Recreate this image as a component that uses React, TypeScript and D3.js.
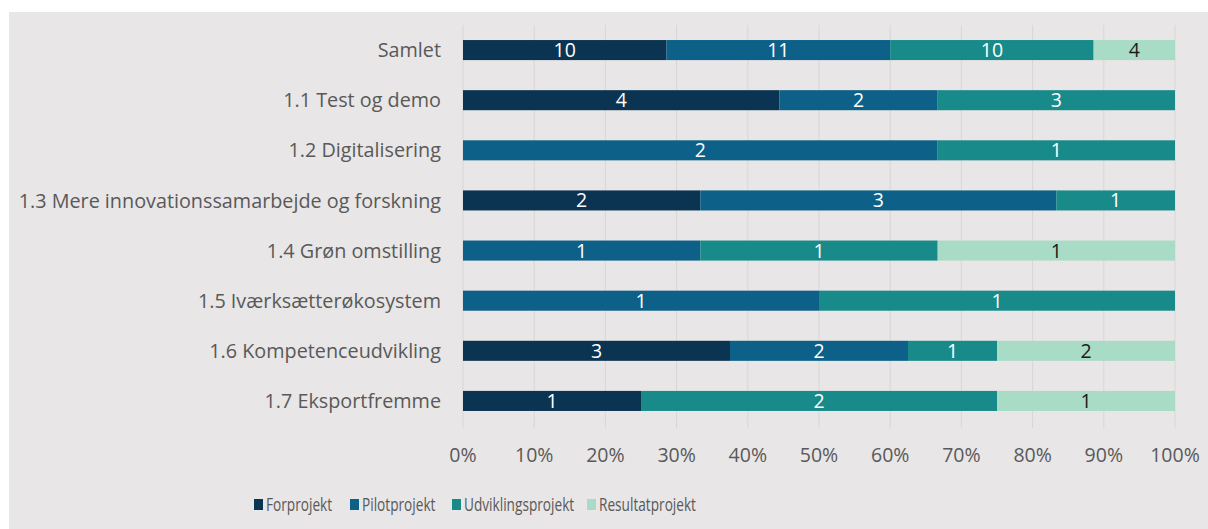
import React from "react";
import * as d3 from "d3";

const categories = [
  "Samlet",
  "1.1 Test og demo",
  "1.2 Digitalisering",
  "1.3 Mere innovationssamarbejde og forskning",
  "1.4 Grøn omstilling",
  "1.5 Iværksætterøkosystem",
  "1.6 Kompetenceudvikling",
  "1.7 Eksportfremme",
];
const seriesNames = ["Forprojekt", "Pilotprojekt", "Udviklingsprojekt", "Resultatprojekt"];
const forprojekt = [10, 4, 0, 2, 0, 0, 3, 1];
const pilotprojekt = [11, 2, 2, 3, 1, 1, 2, 0];
const udviklingsprojekt = [10, 3, 1, 1, 1, 1, 1, 2];
const resultatprojekt = [4, 0, 0, 0, 1, 0, 2, 1];
const tickValues = [0, 0.1, 0.2, 0.3, 0.4, 0.5, 0.6, 0.7, 0.8, 0.9, 1];

const colors = ["#0b3452", "#0d6088", "#178a89", "#a8dcc6"];
const labelColors = ["#ffffff", "#ffffff", "#ffffff", "#1a1a1a"];
const OPEN = "'Open Sans', sans-serif";

export default function App() {
  const W = 1208, H = 529;
  const x0 = 463, x1 = 1175;
  const x = d3.scaleLinear().domain([0, 1]).range([x0, x1]);
  const y = d3.scaleBand().domain(categories).range([25, 426]).paddingInner(0.6).paddingOuter(0.3);

  const rows = categories.map((c, i) => ({
    cat: c,
    Forprojekt: forprojekt[i],
    Pilotprojekt: pilotprojekt[i],
    Udviklingsprojekt: udviklingsprojekt[i],
    Resultatprojekt: resultatprojekt[i],
  }));
  const stack = d3.stack<any>().keys(seriesNames).offset(d3.stackOffsetExpand);
  const layers = stack(rows);

  const legendX = [254, 350, 452, 587];

  return (
    <svg width={W} height={H} style={{ position: "absolute", left: 0, top: 0 }}>
      <rect x={0} y={0} width={W} height={H} fill="#ffffff" />
      <rect x={9} y={12} width={W - 9} height={H - 12} fill="#e8e6e6" />
      {tickValues.map((t) => (
        <line key={t} x1={x(t)} x2={x(t)} y1={25} y2={428} stroke="#d9d6d6" strokeWidth={1} />
      ))}
      {layers.map((layer, si) => (
        <g key={layer.key}>
          {layer.map((d, i) => {
            const w = x(d[1]) - x(d[0]);
            if (w <= 0) return null;
            const yy = y(categories[i])!;
            const raw = rows[i][layer.key as keyof (typeof rows)[0]] as number;
            return (
              <g key={i}>
                <rect x={x(d[0])} y={yy} width={w} height={y.bandwidth()} fill={colors[si]} />
                <text
                  x={(x(d[0]) + x(d[1])) / 2}
                  y={yy + y.bandwidth() / 2}
                  dy="0.36em"
                  textAnchor="middle"
                  fontFamily={OPEN}
                  fontSize={19.5}
                  fill={labelColors[si]}
                >
                  {raw}
                </text>
              </g>
            );
          })}
        </g>
      ))}
      {categories.map((c) => (
        <text
          key={c}
          x={441}
          y={y(c)! + y.bandwidth() / 2}
          dy="0.36em"
          textAnchor="end"
          fontFamily={OPEN}
          fontSize={19.8}
          fill="#595959"
        >
          {c}
        </text>
      ))}
      {tickValues.map((t) => (
        <text
          key={t}
          x={x(t)}
          y={455}
          dy="0.36em"
          textAnchor="middle"
          fontFamily={OPEN}
          fontSize={19.5}
          fill="#595959"
        >
          {d3.format(".0%")(t)}
        </text>
      ))}
      {seriesNames.map((s, i) => (
        <g key={s}>
          <rect x={legendX[i]} y={499} width={9} height={11} fill={colors[i]} />
          <text
            transform={`translate(${legendX[i] + 12},505) scale(0.78,1)`}
            dy="0.36em"
            fontFamily={OPEN}
            fontSize={17.5}
            fill="#595959"
          >
            {s}
          </text>
        </g>
      ))}
    </svg>
  );
}
